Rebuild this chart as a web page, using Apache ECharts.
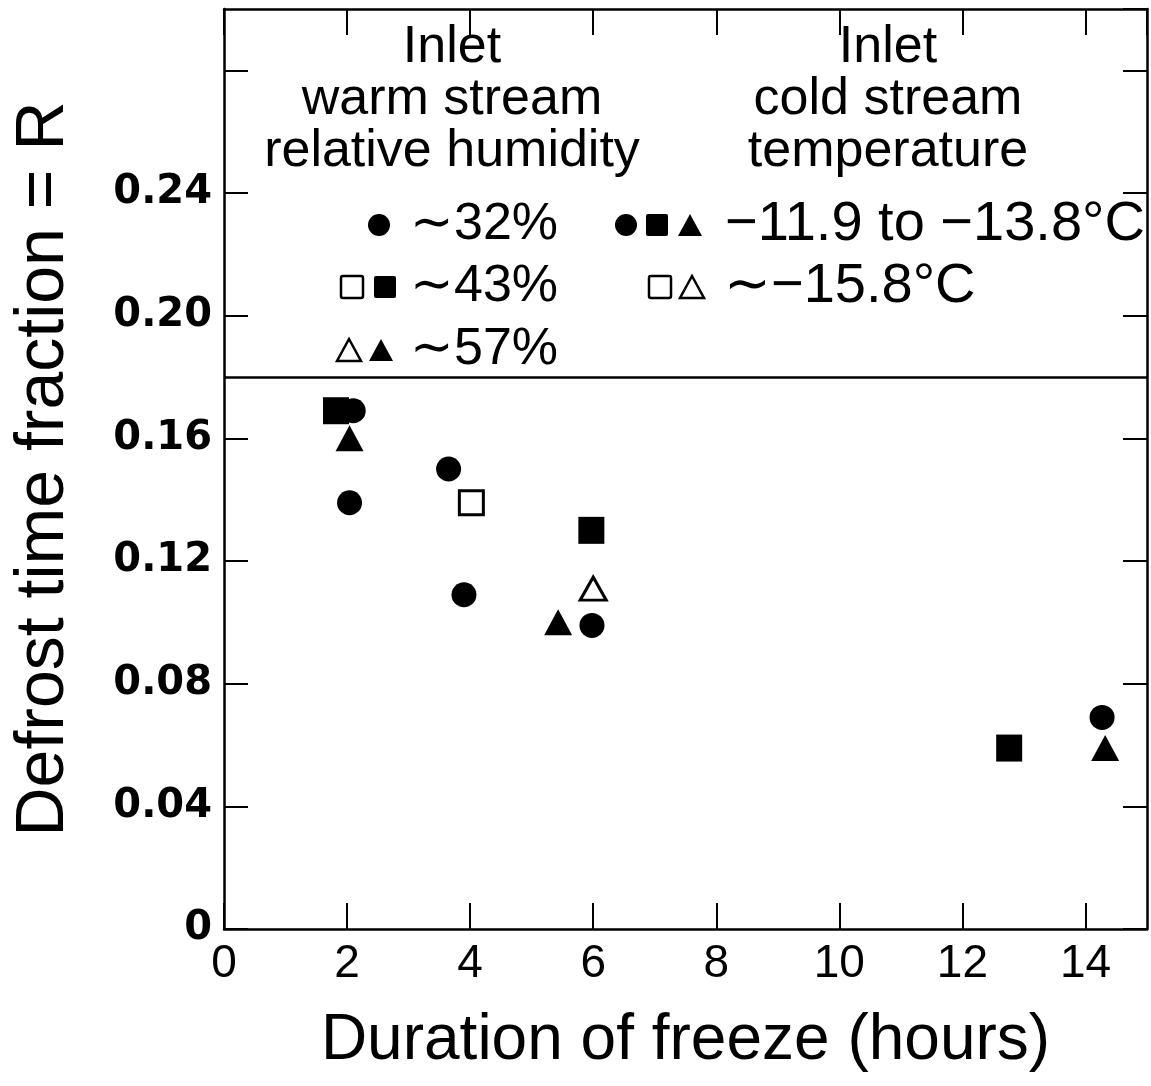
<!DOCTYPE html>
<html>
<head>
<meta charset="utf-8">
<script src="https://cdn.jsdelivr.net/npm/echarts@6/dist/echarts.min.js"></script>
<style>
html, body { margin: 0; padding: 0; background: #fff; }
#chart { width: 1151px; height: 1086px; }
</style>
</head>
<body>
<div id="chart"></div>
<script>
// data: [duration of freeze (h), defrost time fraction R]
var filledCircle   = [[2.10, 0.169], [2.04, 0.139], [3.65, 0.150], [3.90, 0.109], [5.98, 0.099], [14.27, 0.069]];
var filledSquare   = [[1.82, 0.169], [5.97, 0.130], [12.76, 0.059]];
var filledTriangle = [[2.04, 0.160], [5.43, 0.100], [14.32, 0.059]];
var openSquare     = [[4.02, 0.139]];
var openTriangle   = [[6.00, 0.111]];

var xTickLabels = ['0', '2', '4', '6', '8', '10', '12', '14'];
var yTickLabels = ['0', '0.04', '0.08', '0.12', '0.16', '0.20', '0.24'];
var dividerR = 0.18;

var FONT = '"Liberation Sans", Arial, sans-serif';

var chart = echarts.init(document.getElementById('chart'));

function txt(x, y, s, align, size) {
    return {
        type: 'text', x: x, y: y,
        style: { text: s, font: (size || 52) + 'px ' + FONT, fill: '#000', align: align || 'left', verticalAlign: 'middle' }
    };
}
// legend glyphs
function sym(kind, cx, cy) {
    var s = 22, h = s / 2;
    var open = kind === 'S' || kind === 'T';
    var style = open ? { fill: '#fff', stroke: '#000', lineWidth: 2.5 } : { fill: '#000' };
    if (kind === 'c') return { type: 'circle', shape: { cx: cx, cy: cy, r: h }, style: style };
    if (kind === 's' || kind === 'S') return { type: 'rect', shape: { x: cx - h, y: cy - h, width: s, height: s, r: 2 }, style: style };
    return { type: 'polygon', shape: { points: [[cx, cy - h], [cx + h + 1, cy + h], [cx - h - 1, cy + h]] }, style: style };
}

var graphics = [
    txt(452, 48, 'Inlet', 'center'),
    txt(452, 100, 'warm stream', 'center'),
    txt(452, 152, 'relative humidity', 'center'),
    txt(888, 48, 'Inlet', 'center'),
    txt(888, 100, 'cold stream', 'center'),
    txt(888, 152, 'temperature', 'center'),
    sym('c', 379, 225), txt(410, 225, '\u223C32%'),
    sym('S', 352, 287), sym('s', 385, 287), txt(410, 287, '\u223C43%'),
    sym('T', 349, 350), sym('t', 381, 350), txt(410, 350, '\u223C57%'),
    sym('c', 626, 225), sym('s', 657, 225), sym('t', 690, 225), txt(725, 225, '\u221211.9 to \u221213.8\u00B0C', 'left', 56),
    sym('S', 660, 287), sym('T', 692, 287), txt(724, 287, '\u223C\u221215.8\u00B0C', 'left', 56)
];

var axisLineStyle = { color: '#000', width: 2.5 };
var tickStyle = { color: '#000', width: 2 };

chart.setOption({
    backgroundColor: '#fff',
    animation: false,
    grid: { left: 224, right: 4, top: 9, bottom: 157, show: false },
    xAxis: [
        {
            type: 'value', min: 0, max: 15, interval: 2, position: 'bottom',
            name: 'Duration of freeze (hours)', nameLocation: 'middle', nameGap: 80,
            nameTextStyle: { fontFamily: FONT, fontSize: 64, color: '#000' },
            axisLine: { show: true, onZero: false, lineStyle: axisLineStyle },
            axisTick: { show: true, inside: true, length: 26, lineStyle: tickStyle },
            axisLabel: {
                margin: 12, color: '#000', fontFamily: FONT, fontSize: 46, showMaxLabel: false,
                formatter: function (v) { var i = Math.round(v / 2); return (Math.abs(v - i * 2) < 1e-9 && xTickLabels[i]) || ''; }
            },
            splitLine: { show: false }
        },
        {
            type: 'value', min: 0, max: 15, interval: 2, position: 'top',
            axisLine: { show: true, onZero: false, lineStyle: axisLineStyle },
            axisTick: { show: true, inside: true, length: 26, lineStyle: tickStyle },
            axisLabel: { show: false }, splitLine: { show: false }
        }
    ],
    yAxis: [
        {
            type: 'value', min: 0, max: 0.3, interval: 0.04, position: 'left',
            name: 'Defrost time fraction = R', nameLocation: 'middle', nameGap: 146, nameRotate: 90,
            nameTextStyle: { fontFamily: FONT, fontSize: 68, color: '#000' },
            axisLine: { show: true, onZero: false, lineStyle: axisLineStyle },
            axisTick: { show: true, inside: true, length: 24, lineStyle: tickStyle },
            axisLabel: {
                margin: 12, color: '#000', fontFamily: '"DejaVu Sans", sans-serif', fontWeight: 'bold', fontSize: 40, showMaxLabel: false,
                formatter: function (v) { var i = Math.round(v / 0.04); return (Math.abs(v - i * 0.04) < 1e-9 && yTickLabels[i]) || ''; }
            },
            splitLine: { show: false }
        },
        {
            type: 'value', min: 0, max: 0.3, interval: 0.04, position: 'right',
            axisLine: { show: true, onZero: false, lineStyle: axisLineStyle },
            axisTick: { show: true, inside: true, length: 24, lineStyle: tickStyle },
            axisLabel: { show: false }, splitLine: { show: false }
        }
    ],
    graphic: graphics,
    series: [
        {
            name: 'open square', type: 'scatter', data: openSquare,
            symbol: 'rect', symbolSize: 24,
            itemStyle: { color: '#fff', borderColor: '#000', borderWidth: 3, opacity: 1 },
            markLine: {
                silent: true, symbol: 'none', label: { show: false },
                lineStyle: { color: '#000', width: 2.5, type: 'solid' },
                data: [{ yAxis: dividerR }]
            }
        },
        {
            name: 'open triangle', type: 'scatter', data: openTriangle,
            symbol: 'triangle', symbolSize: [26, 23],
            itemStyle: { color: '#fff', borderColor: '#000', borderWidth: 3, opacity: 1 }
        },
        {
            name: 'filled square', type: 'scatter', data: filledSquare,
            symbol: 'rect', symbolSize: [26, 27],
            itemStyle: { color: '#000', opacity: 1 }
        },
        {
            name: 'filled triangle', type: 'scatter', data: filledTriangle,
            symbol: 'triangle', symbolSize: [28, 26],
            itemStyle: { color: '#000', opacity: 1 }
        },
        {
            name: 'filled circle', type: 'scatter', data: filledCircle,
            symbol: 'circle', symbolSize: 25,
            itemStyle: { color: '#000', opacity: 1 }
        }
    ]
});
</script>
</body>
</html>
